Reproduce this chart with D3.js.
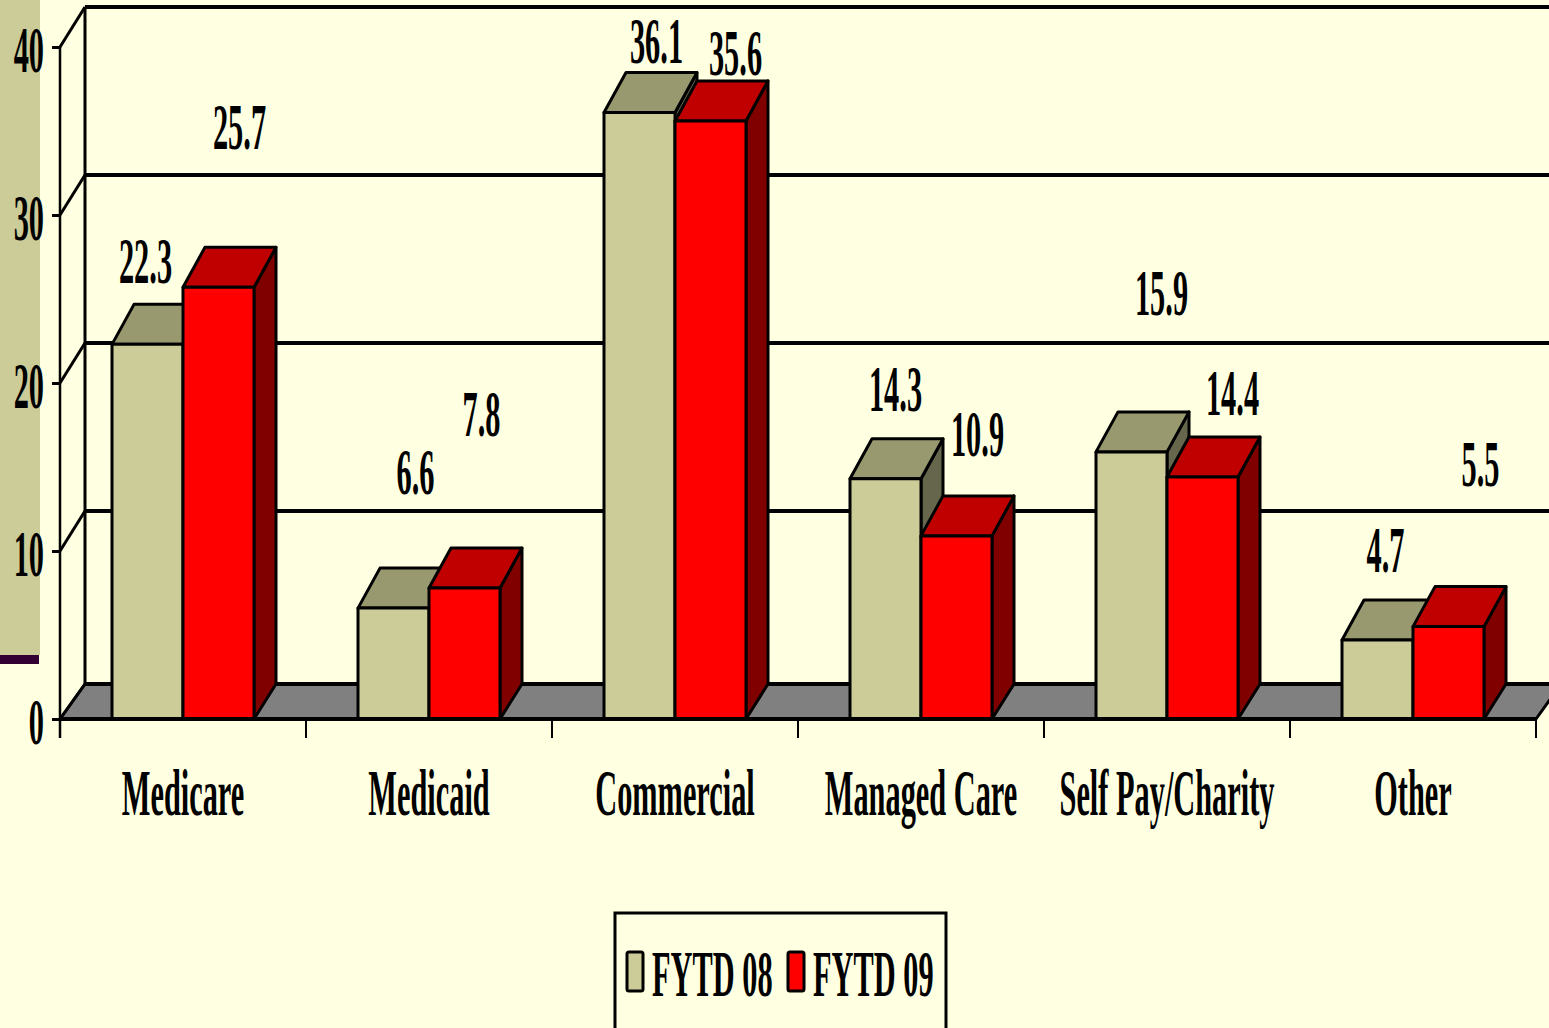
<!DOCTYPE html>
<html>
<head>
<meta charset="utf-8">
<script src="https://cdn.jsdelivr.net/npm/d3@7"></script>
<style>
  html, body { margin: 0; padding: 0; background: #FFFFE1; overflow: hidden; }
  text { font-family: "Liberation Serif", "Times New Roman", serif; font-weight: bold; }
</style>
</head>
<body>
<div id="chart"></div>
<script>
// dados
var categories = ["Medicare", "Medicaid", "Commercial", "Managed Care", "Self Pay/Charity", "Other"];
var seriesNames = ["FYTD 08", "FYTD 09"];
var fytd08 = [22.3, 6.6, 36.1, 14.3, 15.9, 4.7];
var fytd09 = [25.7, 7.8, 35.6, 10.9, 14.4, 5.5];
var yTicks = [0, 10, 20, 30, 40];

// deslocamento dos rotulos de valor (o original tem rotulos movidos a mao)
var nudge08 = [[-2, -61], [22, -114], [17, -50], [10, -68], [30, -137], [8, -68]];
var nudge09 = [[21, -138], [17, -152], [25, -46], [21, -80], [30, -62], [32, -141]];

var W = 1549, H = 1028;
var dx = 25, dz = -40;   // profundidade da parede
var bdx = 22, bdz = -40; // profundidade das barras
var fdz = -35;           // profundidade do chao
var sx = 0.46;           // fonte condensada

var svg = d3.select("#chart").append("svg")
    .attr("width", W).attr("height", H);

svg.append("rect").attr("width", W).attr("height", H).attr("fill", "#FFFFE1");
// faixa lateral
svg.append("rect").attr("x", 0).attr("y", 0).attr("width", 40).attr("height", 655).attr("fill", "#CCCC99");
svg.append("rect").attr("x", 0).attr("y", 655).attr("width", 39).attr("height", 9).attr("fill", "#330033");

var y = d3.scaleLinear().domain([0, 40]).range([719, 47]);
var x = d3.scaleBand().domain(categories).range([60, 1536]);
var xs = d3.scaleBand().domain(seriesNames).range([-71, 71]);

var x0 = 60, x1 = 1536;

// chao
var floorY = y(0);
svg.append("path")
    .attr("d", d3.line()([[x0, floorY], [x0 + dx, floorY + fdz], [x1 + dx, floorY + fdz], [x1, floorY], [x0, floorY]]))
    .attr("fill", "#808080").attr("stroke", "#000").attr("stroke-width", 3).attr("stroke-linejoin", "round");

// grade na parede do fundo
yTicks.forEach(function(v){
    var yb = v === 0 ? floorY + fdz : y(v) + dz;
    svg.append("line")
        .attr("x1", x0 + dx).attr("x2", W + 20)
        .attr("y1", yb).attr("y2", yb)
        .attr("stroke", "#000").attr("stroke-width", 4);
    svg.append("line")
        .attr("x1", x0).attr("y1", y(v))
        .attr("x2", x0 + dx).attr("y2", yb)
        .attr("stroke", "#000").attr("stroke-width", 3);
});
svg.append("line")
    .attr("x1", x0 + dx).attr("x2", x0 + dx)
    .attr("y1", y(40) + dz).attr("y2", floorY + fdz)
    .attr("stroke", "#000").attr("stroke-width", 3);

// barras
var colors = {
    "FYTD 08": {front: "#CCCC99", top: "#999970", side: "#66664D"},
    "FYTD 09": {front: "#FF0000", top: "#C00000", side: "#800000"}
};

function bar(g, bx, v, c){
    var w = xs.bandwidth();
    var yt = y(v), yb = y(0);
    g.append("path")
        .attr("d", d3.line()([[bx + w, yt], [bx + w + bdx, yt + bdz], [bx + w + bdx, yb + fdz], [bx + w, yb]]) + "Z")
        .attr("fill", c.side);
    g.append("path")
        .attr("d", d3.line()([[bx, yt], [bx + bdx, yt + bdz], [bx + w + bdx, yt + bdz], [bx + w, yt]]) + "Z")
        .attr("fill", c.top);
    g.append("rect")
        .attr("x", bx).attr("y", yt).attr("width", w).attr("height", yb - yt)
        .attr("fill", c.front);
    g.selectAll("path, rect").attr("stroke", "#000").attr("stroke-width", 3).attr("stroke-linejoin", "round");
}

var bars = svg.append("g");
categories.forEach(function(cat, i){
    var cx = x(cat) + x.bandwidth() / 2;
    bar(bars.append("g"), cx + xs("FYTD 08"), fytd08[i], colors["FYTD 08"]);
    bar(bars.append("g"), cx + xs("FYTD 09"), fytd09[i], colors["FYTD 09"]);
});

// linha da frente do chao
svg.append("line")
    .attr("x1", x0).attr("x2", x1).attr("y1", floorY).attr("y2", floorY)
    .attr("stroke", "#000").attr("stroke-width", 4);

// eixo y
var yAxis = svg.append("g")
    .attr("transform", "translate(" + x0 + ",0)")
    .call(d3.axisLeft(y).tickValues(yTicks).tickSize(8).tickSizeOuter(0));
yAxis.select(".domain").attr("stroke-width", 2.5).attr("d", "M0," + y(40) + "V" + (floorY + 19));
yAxis.selectAll(".tick line").attr("stroke-width", 3);
yAxis.selectAll(".tick text")
    .attr("x", null).attr("dy", null)
    .attr("fill", "#000")
    .attr("font-size", 66)
    .attr("font-family", "'Liberation Serif', serif")
    .attr("font-weight", "bold")
    .attr("text-anchor", "end")
    .attr("transform", "translate(-16,24) scale(" + sx + ",1)");

// eixo x: marcas nas divisas
var bounds = categories.map(function(c){ return x(c); }).concat([x1]);
svg.selectAll(".xtick").data(bounds).enter().append("line")
    .attr("x1", function(d){ return d; }).attr("x2", function(d){ return d; })
    .attr("y1", floorY).attr("y2", floorY + 19)
    .attr("stroke", "#000").attr("stroke-width", 2);

svg.selectAll(".xlab").data(categories).enter().append("text")
    .attr("transform", function(d){ return "translate(" + (x(d) + x.bandwidth() / 2) + ",815) scale(" + sx + ",1)"; })
    .attr("text-anchor", "middle")
    .attr("font-size", 66)
    .text(function(d){ return d; });

// rotulos de valor
function labels(vals, nud, s){
    categories.forEach(function(cat, i){
        var cx = x(cat) + x.bandwidth() / 2 + xs(s) + xs.bandwidth() / 2;
        svg.append("text")
            .attr("transform", "translate(" + (cx + nud[i][0]) + "," + (y(vals[i]) + nud[i][1]) + ") scale(" + sx + ",1)")
            .attr("text-anchor", "middle")
            .attr("font-size", 66)
            .text(d3.format(".1f")(vals[i]));
    });
}
labels(fytd08, nudge08, "FYTD 08");
labels(fytd09, nudge09, "FYTD 09");

// legenda
var leg = svg.append("g");
leg.append("rect")
    .attr("x", 615).attr("y", 913).attr("width", 331).attr("height", 140)
    .attr("fill", "none").attr("stroke", "#000").attr("stroke-width", 3);
var legX = [627, 788];
seriesNames.forEach(function(s, i){
    leg.append("rect")
        .attr("x", legX[i]).attr("y", 952).attr("width", 16).attr("height", 39).attr("rx", 2)
        .attr("fill", colors[s].front).attr("stroke", "#000").attr("stroke-width", 3);
    leg.append("text")
        .attr("transform", "translate(" + (legX[i] + 25) + ",996) scale(" + sx + ",1)")
        .attr("font-size", 66)
        .text(s);
});
</script>
</body>
</html>
